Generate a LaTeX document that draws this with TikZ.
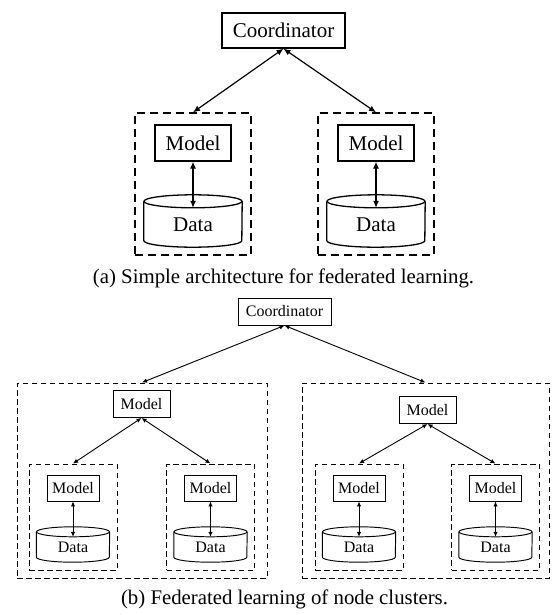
\documentclass[tikz,border=0pt]{standalone}
\usepackage{fontspec}
\setmainfont{Liberation Serif}
\usetikzlibrary{arrows.meta}
\newcommand\dbdraw[4]{% #1 name, #2 rx, #3 ry, #4 style
  \draw[#4] (#1.north) ellipse [x radius=#2, y radius=#3];
  \draw[#4] (#1.north west) -- ([yshift=#3 pt]#1.south west)
     arc[start angle=180, end angle=0, x radius=#2, y radius=#3] -- (#1.north east);
}
\tikzset{
  fa/.style={font=\fontsize{21}{24}\selectfont},
  fb/.style={font=\fontsize{16}{19}\selectfont},
  boxA/.style={draw, line width=1.3pt, inner sep=0pt, fa},
  boxB/.style={draw, line width=0.95pt, inner sep=0pt, fb},
  dboxA/.style={draw, line width=1.3pt, dash pattern=on 8pt off 5pt, inner sep=0pt},
  dboxB/.style={draw, line width=0.95pt, dash pattern=on 5.5pt off 3.5pt, inner sep=0pt},
  dataA/.style={inner sep=0pt, minimum width=98pt, minimum height=45.5pt, fa},
  dataB/.style={inner sep=0pt, minimum width=73pt, minimum height=30pt, fb},
  arrA/.style={line width=1.2pt, arrows={Latex[length=7pt,width=6pt]-Latex[length=7pt,width=6pt]}},
  arrB/.style={line width=0.9pt, arrows={Latex[length=5pt,width=4.5pt]-Latex[length=5pt,width=4.5pt]}},
  capt/.style={anchor=base, font=\fontsize{20.8}{24}\selectfont},
}
\begin{document}
\begin{tikzpicture}[x=1pt,y=-1pt]
\useasboundingbox (0,0) rectangle (551,615);

% ---------- (a) ----------
\node[boxA, minimum width=123pt, minimum height=35pt] (coA) at (283.5,30.5) {Coordinator};
\node[dboxA, minimum width=116pt, minimum height=142pt] (gA1) at (193,184) {};
\node[dboxA, minimum width=116pt, minimum height=142pt] (gA2) at (376,184) {};
\node[boxA, minimum width=76pt, minimum height=36pt] (mA1) at (193,143) {Model};
\node[boxA, minimum width=76pt, minimum height=36pt] (mA2) at (376,143) {Model};
\node[dataA] (dA1) at (193,224.25) {Data};
\node[dataA] (dA2) at (376,224.25) {Data};
\dbdraw{dA1}{49}{6.5}{line width=1.3pt}
\dbdraw{dA2}{49}{6.5}{line width=1.3pt}
\draw[arrA] (coA.south) -- (gA1.north);
\draw[arrA] (coA.south) -- (gA2.north);
\draw[arrA] (mA1.south) -- ([yshift=-6.5pt]dA1.north);
\draw[arrA] (mA2.south) -- ([yshift=-6.5pt]dA2.north);
\node[capt] (capA) at (283.5,283) {(a) Simple architecture for federated learning.};

% ---------- (b) ----------
\node[boxB, minimum width=93pt, minimum height=27pt] (coB) at (284.5,311.5) {Coordinator};
\node[dboxB, minimum width=250pt, minimum height=195pt] (oL) at (142,480.5) {};
\node[dboxB, minimum width=247pt, minimum height=195pt] (oR) at (425.5,480.5) {};
\node[boxB, minimum width=57pt, minimum height=27pt] (tL) at (141.5,404) {Model};
\node[boxB, minimum width=57pt, minimum height=27pt] (tR) at (427.5,410) {Model};
\draw[arrB] (coB.south) -- (oL.north);
\draw[arrB] (coB.south) -- (oR.north);

\foreach \n/\x in {i1/73, i2/210.5, i3/359, i4/495.5}{
  \node[dboxB, minimum width=88pt, minimum height=106pt] (g\n) at (\x,517) {};
  \node[boxB, minimum width=52pt, minimum height=26pt] (m\n) at (\x,488) {Model};
  \node[dataB] (d\n) at (\x,547) {Data};
  \dbdraw{d\n}{36.5}{5}{line width=0.95pt}
  \draw[arrB] (m\n.south) -- ([yshift=-5pt]d\n.north);
}
\draw[arrB] (tL.south) -- (gi1.north);
\draw[arrB] (tL.south) -- (gi2.north);
\draw[arrB] (tR.south) -- (gi3.north);
\draw[arrB] (tR.south) -- (gi4.north);
\node[capt] (capB) at (284.5,604) {(b) Federated learning of node clusters.};
\end{tikzpicture}
\end{document}
